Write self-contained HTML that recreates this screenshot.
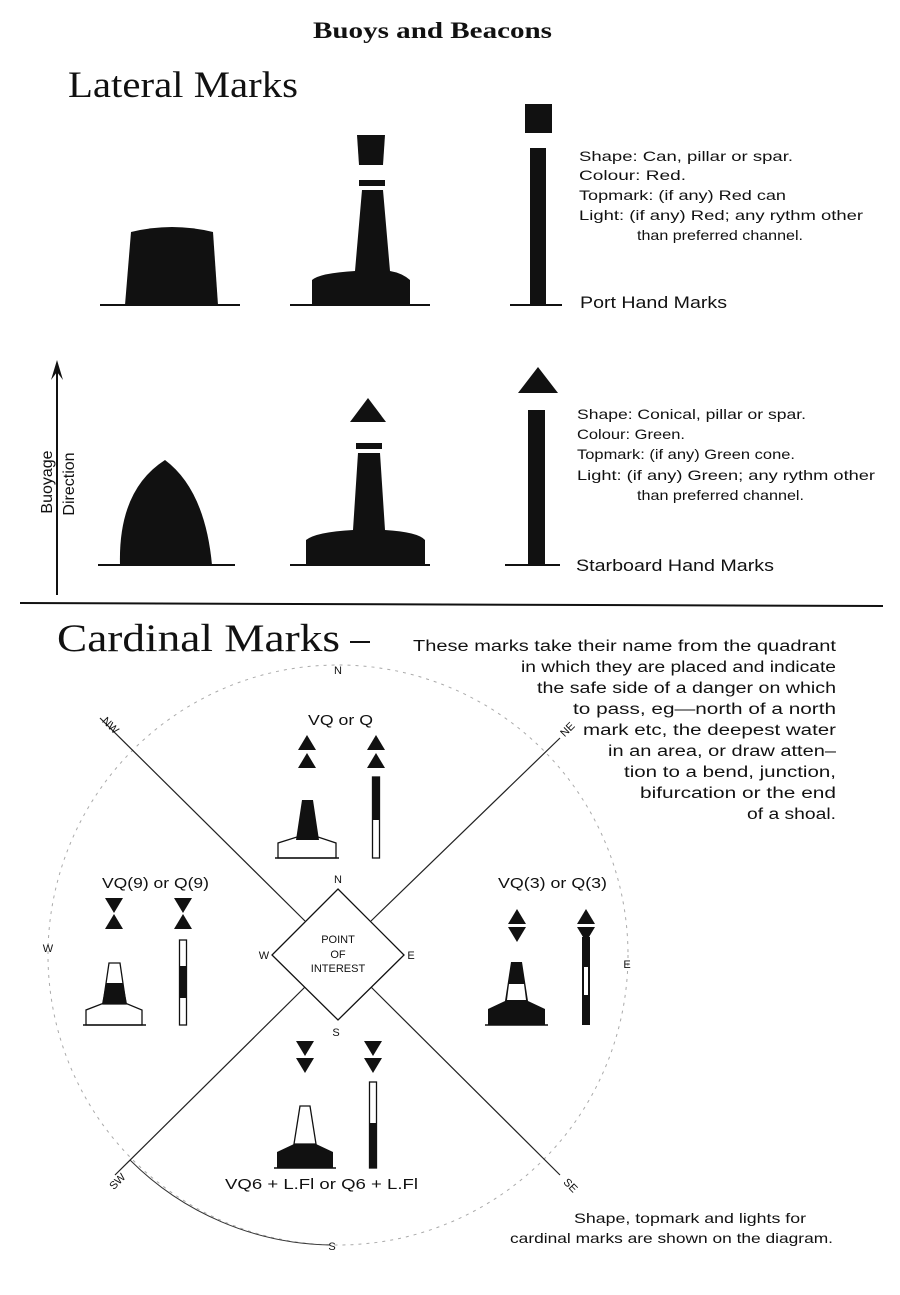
<!DOCTYPE html>
<html><head><meta charset="utf-8"><style>
html,body{margin:0;padding:0;background:#fff}
svg{display:block}
text{font-family:"Liberation Sans",sans-serif;fill:#111}
</style></head><body>
<svg width="900" height="1295" viewBox="0 0 900 1295" xmlns="http://www.w3.org/2000/svg">
<defs>
<polygon id="up" points="0,-8 -9,7 9,7" fill="#111"/>
<polygon id="dn" points="0,8 -9,-7 9,-7" fill="#111"/>
</defs>
<text x="313" y="38" textLength="239" lengthAdjust="spacingAndGlyphs" style="font-family:'Liberation Serif',serif;font-weight:bold;font-size:23px">Buoys and Beacons</text>
<text x="68" y="97" textLength="230" lengthAdjust="spacingAndGlyphs" style="font-family:'Liberation Serif',serif;font-size:37px">Lateral Marks</text>

<!-- Port hand -->
<line x1="100" y1="305" x2="240" y2="305" stroke="#111" stroke-width="2"/>
<path d="M125,305 L131,232 Q172,222 213,232 L218,305 Z" fill="#111"/>
<line x1="290" y1="305" x2="430" y2="305" stroke="#111" stroke-width="2"/>
<path d="M312,305 L312,280 Q320,273 355,271 L362,190 L383,190 L390,271 Q402,273 410,280 L410,305Z" fill="#111"/>
<rect x="359" y="180" width="26" height="6" fill="#111"/>
<path d="M357,135 L385,135 L383,165 L359,165Z" fill="#111"/>
<line x1="510" y1="305" x2="562" y2="305" stroke="#111" stroke-width="2"/>
<rect x="530" y="148" width="16" height="157" fill="#111"/>
<rect x="525" y="104" width="27" height="29" fill="#111"/>
<g style="font-size:14px">
<text x="579" y="161" textLength="214" lengthAdjust="spacingAndGlyphs">Shape: Can, pillar or spar.</text>
<text x="579" y="180" textLength="107" lengthAdjust="spacingAndGlyphs">Colour: Red.</text>
<text x="579" y="200" textLength="207" lengthAdjust="spacingAndGlyphs">Topmark: (if any) Red can</text>
<text x="579" y="220" textLength="284" lengthAdjust="spacingAndGlyphs">Light: (if any) Red; any rythm other</text>
<text x="637" y="240" textLength="166" lengthAdjust="spacingAndGlyphs">than preferred channel.</text>
</g>
<text x="580" y="308" textLength="147" lengthAdjust="spacingAndGlyphs" style="font-size:17px">Port Hand Marks</text>

<!-- Starboard -->
<line x1="57" y1="595" x2="57" y2="365" stroke="#111" stroke-width="2"/>
<polygon points="57,360 51,380 57,372 63,380" fill="#111"/>
<text transform="translate(52,482) rotate(-90)" text-anchor="middle" style="font-size:16px">Buoyage</text>
<text transform="translate(74,484) rotate(-90)" text-anchor="middle" style="font-size:16px">Direction</text>
<line x1="98" y1="565" x2="235" y2="565" stroke="#111" stroke-width="2"/>
<path d="M120,565 Q118,490 165,460 Q205,490 212,565Z" fill="#111"/>
<line x1="290" y1="565" x2="430" y2="565" stroke="#111" stroke-width="2"/>
<path d="M306,565 L306,540 Q316,532 353,530 L358,453 L380,453 L385,530 Q418,532 425,540 L425,565Z" fill="#111"/>
<rect x="356" y="443" width="26" height="6" fill="#111"/>
<polygon points="368,398 350,422 386,422" fill="#111"/>
<line x1="505" y1="565" x2="560" y2="565" stroke="#111" stroke-width="2"/>
<rect x="528" y="410" width="17" height="155" fill="#111"/>
<polygon points="538,367 518,393 558,393" fill="#111"/>
<g style="font-size:14px">
<text x="577" y="419" textLength="229" lengthAdjust="spacingAndGlyphs">Shape: Conical, pillar or spar.</text>
<text x="577" y="439" textLength="108" lengthAdjust="spacingAndGlyphs">Colour: Green.</text>
<text x="577" y="459" textLength="218" lengthAdjust="spacingAndGlyphs">Topmark: (if any) Green cone.</text>
<text x="577" y="480" textLength="298" lengthAdjust="spacingAndGlyphs">Light: (if any) Green; any rythm other</text>
<text x="637" y="500" textLength="167" lengthAdjust="spacingAndGlyphs">than preferred channel.</text>
</g>
<text x="576" y="571" textLength="198" lengthAdjust="spacingAndGlyphs" style="font-size:17px">Starboard Hand Marks</text>

<line x1="20" y1="603" x2="883" y2="606" stroke="#111" stroke-width="2"/>
<text x="57" y="651" textLength="283" lengthAdjust="spacingAndGlyphs" style="font-family:'Liberation Serif',serif;font-size:39px">Cardinal Marks</text>
<line x1="350" y1="642" x2="370" y2="642" stroke="#111" stroke-width="2"/>
<g style="font-size:15.5px">
<text x="413" y="651" textLength="423" lengthAdjust="spacingAndGlyphs">These marks take their name from the quadrant</text>
<text x="521" y="672" textLength="315" lengthAdjust="spacingAndGlyphs">in which they are placed and indicate</text>
<text x="537" y="693" textLength="299" lengthAdjust="spacingAndGlyphs">the safe side of a danger on which</text>
<text x="573" y="714" textLength="263" lengthAdjust="spacingAndGlyphs">to pass, eg—north of a north</text>
<text x="583" y="735" textLength="253" lengthAdjust="spacingAndGlyphs">mark etc, the deepest water</text>
<text x="608" y="756" textLength="228" lengthAdjust="spacingAndGlyphs">in an area, or draw atten–</text>
<text x="624" y="777" textLength="212" lengthAdjust="spacingAndGlyphs">tion to a bend, junction,</text>
<text x="640" y="798" textLength="196" lengthAdjust="spacingAndGlyphs">bifurcation or the end</text>
<text x="747" y="819" textLength="89" lengthAdjust="spacingAndGlyphs">of a shoal.</text>
</g>

<!-- compass -->
<circle cx="338" cy="955" r="290" fill="none" stroke="#aaa" stroke-width="1" stroke-dasharray="3,5"/>
<path d="M130,1160 A290,290 0 0 0 330,1245" fill="none" stroke="#333" stroke-width="1"/>
<line x1="100" y1="718" x2="305" y2="921" stroke="#222" stroke-width="1.2"/>
<line x1="560" y1="738" x2="371" y2="921" stroke="#222" stroke-width="1.2"/>
<line x1="115" y1="1175" x2="305" y2="987" stroke="#222" stroke-width="1.2"/>
<line x1="560" y1="1175" x2="371" y2="987" stroke="#222" stroke-width="1.2"/>
<polygon points="338,889 404,955 338,1020 272,955" fill="#fff" stroke="#111" stroke-width="1.3"/>
<g style="font-size:11px" text-anchor="middle">
<text x="338" y="943">POINT</text><text x="338" y="958">OF</text><text x="338" y="972">INTEREST</text>
<text x="338" y="883">N</text><text x="336" y="1036">S</text><text x="264" y="959">W</text><text x="411" y="959">E</text>
<text x="338" y="674">N</text><text x="48" y="952">W</text><text x="627" y="968">E</text><text x="332" y="1250">S</text>
<text transform="translate(108,728) rotate(45)">NW</text>
<text transform="translate(570,732) rotate(-45)">NE</text>
<text transform="translate(120,1184) rotate(-45)">SW</text>
<text transform="translate(568,1188) rotate(45)">SE</text>
</g>
<g style="font-size:14.5px">
<text x="308" y="725" textLength="65" lengthAdjust="spacingAndGlyphs">VQ or Q</text>
<text x="102" y="888" textLength="107" lengthAdjust="spacingAndGlyphs">VQ(9) or Q(9)</text>
<text x="498" y="888" textLength="109" lengthAdjust="spacingAndGlyphs">VQ(3) or Q(3)</text>
<text x="225" y="1189" textLength="193" lengthAdjust="spacingAndGlyphs">VQ6 + L.Fl or Q6 + L.Fl</text>
</g>

<!-- North -->
<use href="#up" x="307" y="743"/><use href="#up" x="307" y="761"/>
<use href="#up" x="376" y="743"/><use href="#up" x="376" y="761"/>
<path d="M278,858 L278,843 L297,837 L318,837 L336,843 L336,858Z" fill="#fff" stroke="#111" stroke-width="1.3"/>
<line x1="275" y1="858" x2="339" y2="858" stroke="#111" stroke-width="1.5"/>
<polygon points="296,840 302,800 313,800 319,840" fill="#111"/>
<rect x="372.5" y="777" width="7" height="81" fill="#fff" stroke="#111" stroke-width="1.3"/>
<rect x="372.5" y="777" width="7" height="43" fill="#111"/>

<!-- West -->
<use href="#dn" x="114" y="905"/><use href="#up" x="114" y="922"/>
<use href="#dn" x="183" y="905"/><use href="#up" x="183" y="922"/>
<path d="M86,1025 L86,1010 L104,1003 L125,1003 L142,1010 L142,1025Z" fill="#fff" stroke="#111" stroke-width="1.3"/>
<line x1="83" y1="1025" x2="146" y2="1025" stroke="#111" stroke-width="1.5"/>
<polygon points="103,1004 109,963 120,963 126,1004" fill="#fff" stroke="#111" stroke-width="1.3"/>
<polygon points="102,1004 106,983 123,983 127,1004" fill="#111"/>
<rect x="179.5" y="940" width="7" height="85" fill="#fff" stroke="#111" stroke-width="1.3"/>
<rect x="179.5" y="966" width="7" height="32" fill="#111"/>

<!-- East -->
<use href="#up" x="517" y="917"/><use href="#dn" x="517" y="934"/>
<use href="#up" x="586" y="917"/><use href="#dn" x="586" y="934"/>
<path d="M488,1025 L488,1009 L505,1001 L528,1001 L545,1009 L545,1025Z" fill="#111"/>
<line x1="485" y1="1025" x2="548" y2="1025" stroke="#111" stroke-width="1.5"/>
<polygon points="505,1001 511,962 522,962 528,1001" fill="#111"/>
<polygon points="509,984 524,984 526,1000 507,1000" fill="#fff"/>
<rect x="582" y="937" width="8" height="88" fill="#111"/>
<rect x="584" y="967" width="4" height="28" fill="#fff"/>

<!-- South -->
<use href="#dn" x="305" y="1048"/><use href="#dn" x="305" y="1065"/>
<use href="#dn" x="373" y="1048"/><use href="#dn" x="373" y="1065"/>
<path d="M277,1168 L277,1152 L294,1144 L316,1144 L333,1152 L333,1168Z" fill="#111"/>
<line x1="274" y1="1168" x2="336" y2="1168" stroke="#111" stroke-width="1.5"/>
<polygon points="294,1144 300,1106 310,1106 316,1144" fill="#fff" stroke="#111" stroke-width="1.3"/>
<rect x="369.5" y="1082" width="7" height="86" fill="#fff" stroke="#111" stroke-width="1.3"/>
<rect x="369.5" y="1123" width="7" height="45" fill="#111"/>

<g style="font-size:14px">
<text x="574" y="1223" textLength="232" lengthAdjust="spacingAndGlyphs">Shape, topmark and lights for</text>
<text x="510" y="1243" textLength="323" lengthAdjust="spacingAndGlyphs">cardinal marks are shown on the diagram.</text>
</g>
</svg>
</body></html>
